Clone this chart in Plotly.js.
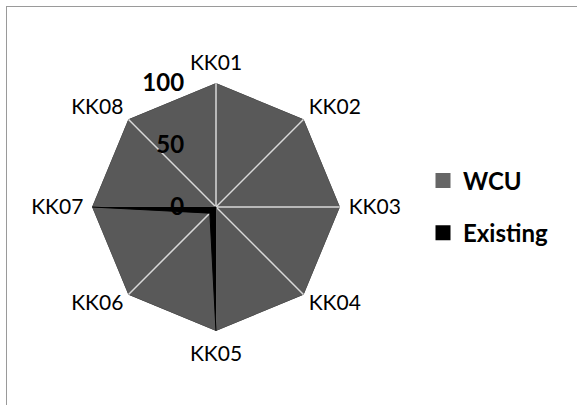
<!DOCTYPE html>
<html>
<head>
<meta charset="utf-8">
<script src="https://cdn.plot.ly/plotly-3.0.1.min.js"></script>
<style>
html,body{margin:0;padding:0;background:#fff;}
#wrap{position:relative;width:577px;height:405px;overflow:hidden;}
#chart{position:absolute;left:0;top:0;width:577px;height:405px;}
#frame{position:absolute;left:6px;top:6px;width:700px;height:500px;border-left:1px solid #9a9a9a;border-top:1px solid #9a9a9a;pointer-events:none;}
</style>
</head>
<body>
<div id="wrap"><div id="chart"></div><div id="frame"></div></div>
<script>
const categories = ["KK01","KK02","KK03","KK04","KK05","KK06","KK07","KK08"];
const wcuValues = [100,100,100,100,100,100,100,100];
const existingValues = [0,0,0,0,100,7,100,0];
const radialTicks = [0,50,100];
const seriesNames = ["WCU","Existing"];
const seriesColors = ["#595959","#000000"];

const closeLoop = a => a.concat([a[0]]);
const FONT = "Lato, 'Liberation Sans', sans-serif";
const PAD = '<span style="color:rgba(0,0,0,0)">00</span>';
const DOT = '<span style="color:rgba(0,0,0,0)">.</span>';
const rMax = Math.max(...radialTicks);

const diagIdx = [1,3,5,7];
const diagPos = {1:"top right",3:"bottom right",5:"bottom left",7:"top left"};
const diagText = i => (diagPos[i].indexOf("right") >= 0) ? DOT + categories[i] : categories[i] + DOT;

const traces = [];
traces.push({
  type:"scatterpolar", name:seriesNames[0], showlegend:false,
  r: closeLoop(wcuValues), theta: closeLoop(categories),
  fill:"toself", fillcolor:seriesColors[0],
  line:{color:"#3f3f3f", width:1}, mode:"lines", hoverinfo:"skip"
});
categories.forEach(c => {
  traces.push({
    type:"scatterpolar", r:[0, rMax], theta:[c,c],
    mode:"lines", line:{color:"#d9d9d9", width:1.5},
    showlegend:false, hoverinfo:"skip"
  });
});
traces.push({
  type:"scatterpolar", name:seriesNames[1], showlegend:false,
  r: closeLoop(existingValues), theta: closeLoop(categories),
  fill:"toself", fillcolor:seriesColors[1],
  line:{color:"#000000", width:1}, mode:"lines", hoverinfo:"skip"
});
traces.push({
  type:"scatterpolar", mode:"text", showlegend:false, hoverinfo:"skip",
  r: diagIdx.map(() => rMax), theta: diagIdx.map(i => categories[i]),
  text: diagIdx.map(diagText),
  textposition: diagIdx.map(i => diagPos[i]),
  textfont:{family:FONT, size:21, color:"#000"}, cliponaxis:false
});
seriesNames.forEach((n,i) => {
  traces.push({
    type:"scatterpolar", name:n, r:[null], theta:[categories[0]],
    mode:"markers", marker:{symbol:"square", size:15, color: i===0 ? "#666666" : "#000000"},
    legendgroup:n, showlegend:true, hoverinfo:"skip"
  });
});

const layout = {
  width:577, height:405,
  margin:{l:0,r:0,t:0,b:0},
  paper_bgcolor:"#ffffff",
  font:{family:FONT, color:"#000"},
  showlegend:true,
  legend:{x:423/577, y:1-(207/405), xanchor:"left", yanchor:"middle",
          font:{family:FONT, size:24, weight:"bold", color:"#000"},
          tracegroupgap:18, itemwidth:30, bgcolor:"rgba(0,0,0,0)"},
  polar:{
    domain:{x:[92/577, 340/577], y:[74/405, 322/405]},
    gridshape:"linear",
    bgcolor:"rgba(0,0,0,0)",
    radialaxis:{
      range:[0,rMax], tickvals:radialTicks,
      ticktext: radialTicks.map(v => String(v) + PAD),
      angle:90, tickangle:90,
      side:"counterclockwise",
      showgrid:false, showline:false, ticks:"",
      tickfont:{family:FONT, size:24, weight:"bold", color:"#000"},
      layer:"above traces"
    },
    angularaxis:{
      direction:"clockwise", rotation:90,
      tickmode:"array", tickvals:categories,
      ticktext: categories.map((c,i) => diagIdx.includes(i) ? "" : c),
      showgrid:false, showline:false, ticks:"outside", ticklen:4, tickcolor:"rgba(0,0,0,0)",
      tickfont:{family:FONT, size:21, color:"#000"}
    }
  }
};
Plotly.newPlot("chart", traces, layout, {staticPlot:true});
</script>
</body>
</html>
